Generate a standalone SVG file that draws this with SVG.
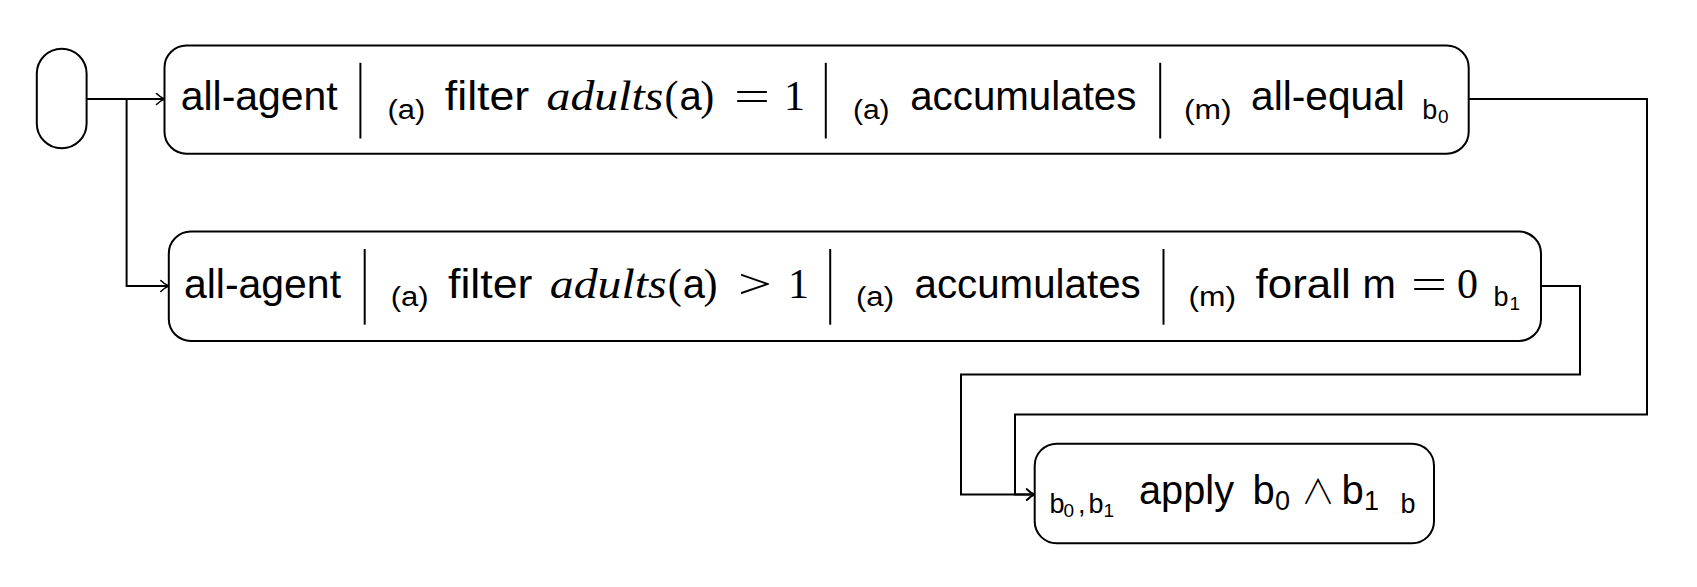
<svg xmlns="http://www.w3.org/2000/svg" width="1697" height="587" viewBox="0 0 1697 587">
<defs>
<marker id="to" markerWidth="14" markerHeight="14" refX="12" refY="7" orient="auto" markerUnits="userSpaceOnUse">
<path d="M4 1.5 Q8 5.5 12 7 Q8 8.5 4 12.5" fill="none" stroke="#000" stroke-width="1.6" stroke-linecap="round"/>
</marker>
</defs>
<style>
.node{fill:#fff;stroke:#000;stroke-width:2}
.sep{stroke:#000;stroke-width:2}
.conn{fill:none;stroke:#000;stroke-width:2}
.t{font-family:"Liberation Sans",Arial,sans-serif;font-size:40px;fill:#000}
.s{font-family:"Liberation Sans",Arial,sans-serif;font-size:27px;fill:#000}
.ss{font-family:"Liberation Sans",Arial,sans-serif;font-size:19px;fill:#000}
.m{font-family:"Liberation Serif","Times New Roman",serif;font-size:42px;fill:#000}
.mi{font-family:"Liberation Serif","Times New Roman",serif;font-size:42px;font-style:italic;fill:#000}
.w{font-family:"Noto Sans CJK SC","DejaVu Sans",sans-serif;font-size:34px;font-weight:300;fill:#000}
</style>
<g id="connectors">
<path class="conn" d="M86.6 99 H164.5" marker-end="url(#to)"/>
<path class="conn" d="M126.6 99 V286 H168.8" marker-end="url(#to)"/>
<path class="conn" d="M1468.7 99 H1647 V414.5 H1015 V494.6 H1034.7" marker-end="url(#to)"/>
<path class="conn" d="M1541 286 H1580 V374.5 H961 V494.6 H1034.7" marker-end="url(#to)"/>
</g>
<g id="start">
<rect class="node" x="36.8" y="48.7" width="49.8" height="99.6" rx="24.9"/>
</g>
<g id="node1">
<rect class="node" x="164.5" y="45.5" width="1304.2" height="108.2" rx="22"/>
<line class="sep" x1="360.4" y1="62.8" x2="360.4" y2="138.5"/>
<line class="sep" x1="825.8" y1="62.8" x2="825.8" y2="138.5"/>
<line class="sep" x1="1160.2" y1="62.8" x2="1160.2" y2="138.5"/>
<text class="t" x="180.7" y="110.4" textLength="157" lengthAdjust="spacingAndGlyphs">all-agent</text>
<text class="s" x="387.5" y="118.5" textLength="37.8" lengthAdjust="spacingAndGlyphs">(a)</text>
<text class="t" x="444.8" y="110.4" textLength="84.4" lengthAdjust="spacingAndGlyphs">filter</text>
<text class="mi" x="546.6" y="110.4" textLength="116.8" lengthAdjust="spacingAndGlyphs">adults</text>
<text class="m" x="664.4" y="110.4">(</text>
<text class="t" x="679.5" y="110.4">a</text>
<text class="m" x="700.3" y="110.4">)</text>
<text class="m" x="734" y="110.4" textLength="36" lengthAdjust="spacingAndGlyphs">=</text>
<text class="m" x="784" y="110.4" textLength="21" lengthAdjust="spacingAndGlyphs">1</text>
<text class="s" x="852.9" y="118.5" textLength="36.7" lengthAdjust="spacingAndGlyphs">(a)</text>
<text class="t" x="910.2" y="110.4" textLength="226.2" lengthAdjust="spacingAndGlyphs">accumulates</text>
<text class="s" x="1184" y="118.5" textLength="47.6" lengthAdjust="spacingAndGlyphs">(m)</text>
<text class="t" x="1251.1" y="110.4" textLength="153.7" lengthAdjust="spacingAndGlyphs">all-equal</text>
<text class="s" x="1422.2" y="118.5">b</text>
<text class="ss" x="1438" y="123">0</text>
</g>
<g id="node2">
<rect class="node" x="168.8" y="231.6" width="1372.2" height="109.4" rx="22"/>
<line class="sep" x1="364.7" y1="249" x2="364.7" y2="324.7"/>
<line class="sep" x1="830.2" y1="249" x2="830.2" y2="324.7"/>
<line class="sep" x1="1163.5" y1="249" x2="1163.5" y2="324.7"/>
<text class="t" x="184" y="297.6" textLength="157" lengthAdjust="spacingAndGlyphs">all-agent</text>
<text class="s" x="390.7" y="305.7" textLength="37.9" lengthAdjust="spacingAndGlyphs">(a)</text>
<text class="t" x="448" y="297.6" textLength="84.5" lengthAdjust="spacingAndGlyphs">filter</text>
<text class="mi" x="549.8" y="297.6" textLength="116.9" lengthAdjust="spacingAndGlyphs">adults</text>
<text class="m" x="667.7" y="297.6">(</text>
<text class="t" x="682.8" y="297.6">a</text>
<text class="m" x="703.6" y="297.6">)</text>
<text class="m" x="738" y="297.6" textLength="34" lengthAdjust="spacingAndGlyphs">&gt;</text>
<text class="m" x="788" y="297.6" textLength="21" lengthAdjust="spacingAndGlyphs">1</text>
<text class="s" x="856" y="305.7" textLength="38" lengthAdjust="spacingAndGlyphs">(a)</text>
<text class="t" x="914.5" y="297.6" textLength="226.2" lengthAdjust="spacingAndGlyphs">accumulates</text>
<text class="s" x="1188.4" y="305.7" textLength="47.6" lengthAdjust="spacingAndGlyphs">(m)</text>
<text class="t" x="1255.5" y="297.6" textLength="95.2" lengthAdjust="spacingAndGlyphs">forall</text>
<text class="t" x="1362.6" y="297.6">m</text>
<text class="m" x="1411" y="297.6" textLength="36" lengthAdjust="spacingAndGlyphs">=</text>
<text class="m" x="1457" y="297.6">0</text>
<text class="s" x="1493.6" y="305.7">b</text>
<text class="ss" x="1509.4" y="310.2">1</text>
</g>
<g id="apply">
<rect class="node" x="1034.7" y="443.7" width="399.3" height="99.6" rx="22"/>
<text class="s" x="1049.5" y="512.5">b</text>
<text class="ss" x="1063.5" y="517">0</text>
<text class="s" x="1078" y="512.5">,</text>
<text class="s" x="1088.5" y="512.5">b</text>
<text class="ss" x="1103.5" y="517">1</text>
<text class="t" x="1139" y="504" textLength="95" lengthAdjust="spacingAndGlyphs">apply</text>
<text class="t" x="1252.5" y="504">b</text>
<text class="s" x="1275" y="510">0</text>
<text class="w" x="1301" y="504">∧</text>
<text class="t" x="1341.5" y="504">b</text>
<text class="s" x="1364" y="510">1</text>
<text class="s" x="1400.5" y="512.5">b</text>
</g>
</svg>
